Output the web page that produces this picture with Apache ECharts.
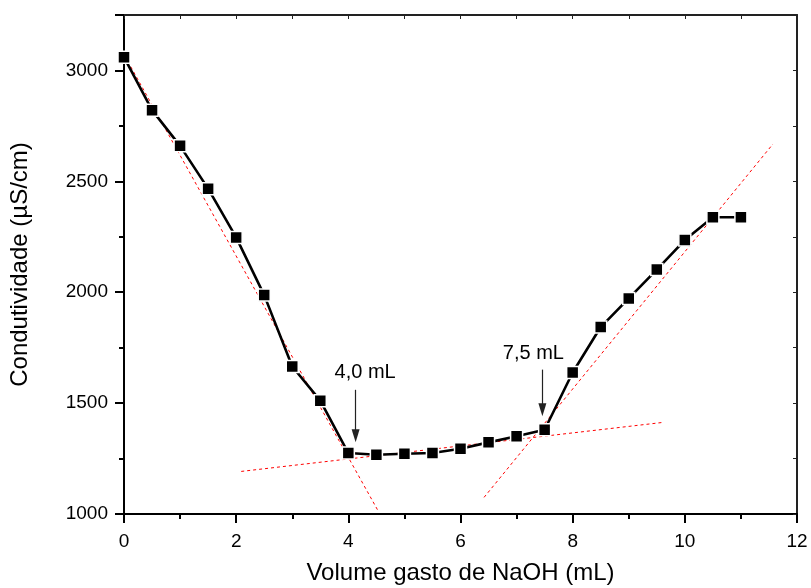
<!DOCTYPE html>
<html>
<head>
<meta charset="utf-8">
<script src="https://cdn.jsdelivr.net/npm/echarts@6/dist/echarts.min.js"></script>
<style>
  html, body { margin: 0; padding: 0; background: #fff; }
  #chart { width: 811px; height: 588px; }
</style>
</head>
<body>
<div id="chart"></div>
<script>
// Conductometric titration: volume of NaOH added vs. conductivity
const volume = [0, 0.5, 1, 1.5, 2, 2.5, 3, 3.5, 4, 4.5, 5, 5.5, 6, 6.5, 7, 7.5, 8, 8.5, 9, 9.5, 10, 10.5, 11];
const conductivity = [3060, 2821, 2660, 2467, 2247, 1987, 1665, 1511, 1275, 1267, 1272, 1275, 1294, 1323, 1351, 1380, 1638, 1843, 1972, 2102, 2235, 2338, 2338];

// Linear fits of the three branches (end points of each fitted segment)
const fitDescending = [[-0.14, 3135], [4.54, 1010]];
const fitPlateau = [[2.09, 1192], [9.61, 1413]];
const fitAscending = [[6.42, 1075], [11.57, 2668]];

// Equivalence-point markers
const eqLabels = ['4,0 mL', '7,5 mL'];
const eqLabelPos = [[4.30, 1640], [7.30, 1725]];
const eqArrows = [
  [[4.13, 1560], [4.13, 1353]],
  [[7.46, 1651], [7.46, 1470]]
];

const xTicks = [0, 2, 4, 6, 8, 10, 12];
const yTicks = [1000, 1500, 2000, 2500, 3000];

const FONT = 'Liberation Sans, Arial, sans-serif';

const chart = echarts.init(document.getElementById('chart'), null, { renderer: 'canvas' });

const fitSeries = [fitDescending, fitPlateau, fitAscending].map(seg => ({
  type: 'line',
  data: seg,
  symbol: 'none',
  silent: true,
  z: 3,
  lineStyle: { color: '#ff0000', width: 1, type: [3, 3] }
}));

chart.setOption({
  animation: false,
  backgroundColor: '#ffffff',
  grid: { left: 124, right: 14, top: 15, bottom: 74, containLabel: false, outerBoundsMode: 'none' },
  xAxis: [
    {
      type: 'value',
      min: 0, max: 12, interval: 2,
      position: 'bottom',
      name: 'Volume gasto de NaOH (mL)',
      nameLocation: 'middle',
      nameGap: 47,
      nameTextStyle: { fontFamily: FONT, fontSize: 24, color: '#000' },
      axisLine: { show: true, onZero: false, lineStyle: { color: '#000', width: 2 } },
      axisTick: { show: true, inside: false, length: 9, lineStyle: { color: '#000', width: 2 } },
      minorTick: { show: true, splitNumber: 2, length: 5, lineStyle: { color: '#000', width: 2 } },
      axisLabel: {
        fontFamily: FONT, fontSize: 19, color: '#000', margin: 18,
        formatter: v => (xTicks.indexOf(v) >= 0 ? String(v) : '')
      },
      splitLine: { show: false }
    },
    {
      type: 'value',
      min: 0, max: 12, interval: 1,
      position: 'top',
      axisLine: { show: true, onZero: false, lineStyle: { color: '#222', width: 2 } },
      axisTick: { show: true, inside: true, length: 4, lineStyle: { color: '#222', width: 1 } },
      axisLabel: { show: false },
      splitLine: { show: false }
    }
  ],
  yAxis: [
    {
      type: 'value',
      min: 1000, max: 3250, interval: 500,
      position: 'left',
      name: 'Condutividade (\u00b5S/cm)',
      nameLocation: 'middle',
      nameGap: 92,
      nameTextStyle: { fontFamily: FONT, fontSize: 24, color: '#000' },
      axisLine: { show: true, onZero: false, lineStyle: { color: '#000', width: 2 } },
      axisTick: { show: true, inside: false, length: 9, lineStyle: { color: '#000', width: 2 } },
      minorTick: { show: true, splitNumber: 2, length: 5, lineStyle: { color: '#000', width: 2 } },
      axisLabel: {
        fontFamily: FONT, fontSize: 19, color: '#000', margin: 16,
        formatter: v => (yTicks.indexOf(v) >= 0 ? String(v) : '')
      },
      splitLine: { show: false }
    },
    {
      type: 'value',
      min: 1000, max: 3250, interval: 250,
      position: 'right',
      axisLine: { show: true, onZero: false, lineStyle: { color: '#222', width: 2 } },
      axisTick: { show: true, inside: true, length: 4, lineStyle: { color: '#222', width: 1 } },
      axisLabel: { show: false },
      splitLine: { show: false }
    }
  ],
  series: [
    ...fitSeries,
    {
      type: 'line',
      data: volume.map((v, i) => [v, conductivity[i]]),
      symbol: 'rect',
      symbolSize: 12,
      z: 5,
      itemStyle: { color: '#000', borderColor: '#fff', borderWidth: 1.5 },
      lineStyle: { color: '#000', width: 2.6 }
    },
    {
      // arrows pointing at the equivalence points
      type: 'line',
      data: [],
      silent: true,
      markLine: {
        silent: true,
        symbol: ['none', 'triangle'],
        symbolSize: [8, 13],
        label: { show: false },
        lineStyle: { color: '#222', width: 1.2, type: 'solid' },
        data: eqArrows.map(a => [{ coord: a[0] }, { coord: a[1] }])
      }
    },
    {
      // equivalence-point labels
      type: 'scatter',
      data: eqLabelPos.map((p, i) => ({ value: p, name: eqLabels[i] })),
      symbolSize: 0,
      silent: true,
      itemStyle: { opacity: 1 },
      label: {
        show: true,
        position: 'inside',
        formatter: p => p.name,
        fontFamily: FONT,
        fontSize: 20,
        color: '#000'
      }
    }
  ]
});
</script>
</body>
</html>
